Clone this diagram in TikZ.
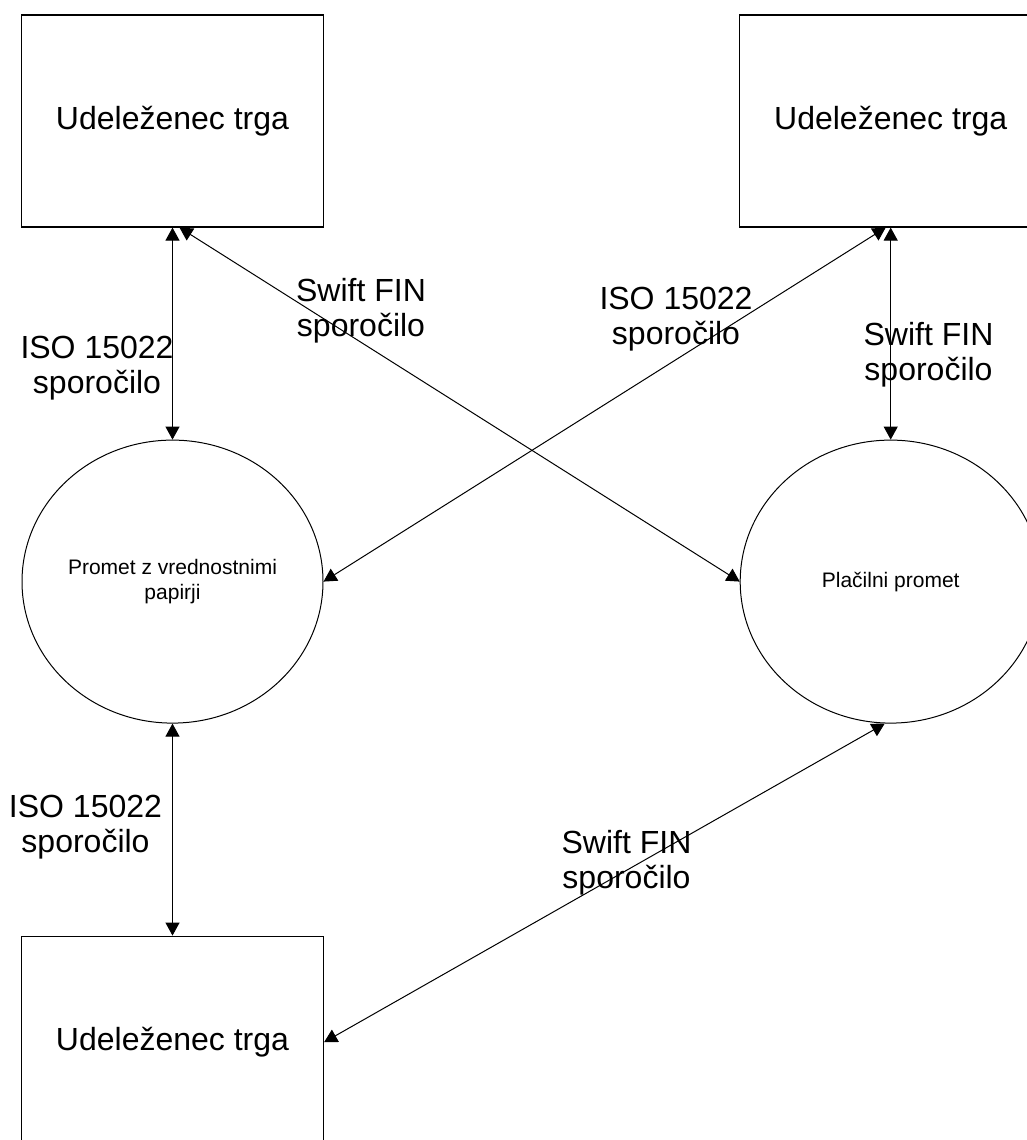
\documentclass[tikz,border=0pt]{standalone}
\usepackage{fontspec}
\setmainfont{Liberation Sans}
\usetikzlibrary{arrows.meta, positioning, shapes.geometric}

\begin{document}
\begin{tikzpicture}[
x=0.5pt, y=-0.5pt,
node distance=106pt and 207.5pt,
box/.style={rectangle, draw, line width=0.6pt, minimum width=151pt, minimum height=106pt, inner sep=0pt, font=\fontsize{16}{17.5}\selectfont},
proc/.style={ellipse, draw, line width=0.5pt, minimum width=150.5pt, minimum height=141.5pt, inner sep=0pt, align=center, font=\fontsize{10.5}{12.5}\selectfont},
lbl/.style={align=center, inner sep=0pt, font=\fontsize{16}{17.5}\selectfont},
line/.style={{Triangle[length=6.5pt,width=7pt]}-{Triangle[length=6.5pt,width=7pt]}, line width=0.5pt}
]
\useasboundingbox (0,0) rectangle (1027,1140);
\clip (0,0) rectangle (1027,1140);

\node[box] (tl) at (172.5,121) {Udeleženec trga};
\node[proc, below=of tl] (sec) {Promet z vrednostnimi\\papirji};
\node[box, below=of sec] (bl) {Udeleženec trga};
\node[box, right=of tl] (tr) {Udeleženec trga};
\node[proc, below=of tr] (pay) {Plačilni promet};

\node[lbl] (isoA) at (97,368) {ISO 15022\\sporočilo};
\node[lbl] (finA) at (361,311) {Swift FIN\\sporočilo};
\node[lbl] (isoB) at (676,319) {ISO 15022\\sporočilo};
\node[lbl] (finB) at (928.5,355) {Swift FIN\\sporočilo};
\node[lbl] (isoC) at (85.5,827) {ISO 15022\\sporočilo};
\node[lbl] (finC) at (626.5,863) {Swift FIN\\sporočilo};

\draw[line] (tl) -- (sec);
\draw[line] (sec) -- (bl);
\draw[line] (tr) -- (pay);
\draw[line] ([xshift=3.5pt]tl.south) -- (pay.west);
\draw[line] ([xshift=-2.5pt]tr.south) -- (sec.east);
\draw[line] (bl.east) -- ([xshift=-3pt]pay.south);

\end{tikzpicture}
\end{document}
